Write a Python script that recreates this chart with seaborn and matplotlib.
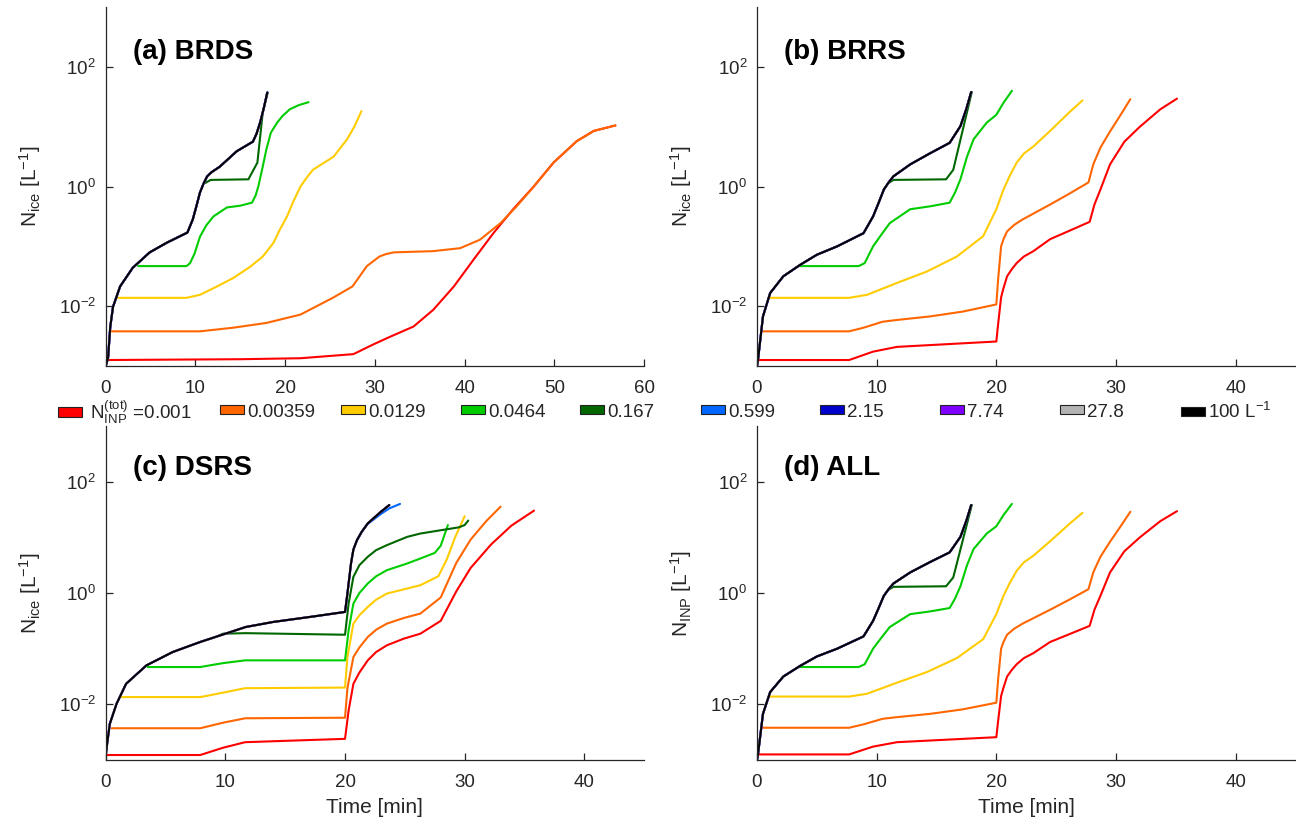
import numpy as np
import pandas as pd
import matplotlib
matplotlib.use("Agg")
import matplotlib.pyplot as plt
import seaborn as sns
from matplotlib.patches import Patch
from matplotlib.ticker import NullLocator

# ---------------- data (time in min, N in L^-1) ----------------
levels = ["0.001", "0.00359", "0.0129", "0.0464", "0.167",
          "0.599", "2.15", "7.74", "27.8", "100"]
colors = ["#FF0000", "#FF6600", "#FFCC00", "#00CC00", "#006600",
          "#0066FF", "#0000CC", "#8000FF", "#B3B3B3", "#000000"]
legend_labels = [r" $\mathregular{N_{INP}^{(tot)}}$ =0.001", "0.00359", "0.0129",
                 "0.0464", "0.167", "0.599", "2.15", "7.74", "27.8",
                 r"100 L$^{-1}$"]
panel_titles = ["(a) BRDS", "(b) BRRS", "(c) DSRS", "(d) ALL"]

# (a) BRDS
a_k_t = [0, 0.26, 0.5, 0.81, 1.6, 3.0, 4.9, 6.8, 9.1, 9.7, 10.1, 10.5, 10.9, 11.3, 11.8,
         12.7, 14.6, 16.4, 16.8, 17.2, 17.6, 18.0]
a_k_n = [0.001, 0.00138, 0.00447, 0.00977, 0.0214, 0.0437, 0.0794, 0.115, 0.170, 0.282,
         0.468, 0.794, 1.12, 1.48, 1.74, 2.14, 3.89, 5.62, 7.59, 11.7, 20.0, 37.2]
a_dg_t = [11.1, 11.7, 15.9, 16.9, 17.5, 18.05]
a_dg_n = [1.15, 1.29, 1.32, 2.51, 17.4, 37.2]
a_g_t = [3.6, 9.0, 9.4, 9.9, 10.5, 11.2, 12.0, 13.5, 15.0, 16.3, 16.7, 17.0, 17.45, 17.9,
         18.4, 19.1, 19.7, 20.5, 21.5, 22.6]
a_g_n = [0.0468, 0.0468, 0.0525, 0.076, 0.145, 0.224, 0.316, 0.447, 0.479, 0.537, 0.708,
         1.0, 2.0, 4.17, 7.94, 11.7, 15.1, 19.5, 22.9, 25.7]
a_y_t = [1.2, 9.0, 10.5, 12.4, 14.2, 16.1, 17.5, 18.7, 19.4, 20.2, 20.9, 21.7, 22.4, 23.1,
         25.4, 26.9, 27.7, 28.5]
a_y_n = [0.0138, 0.0138, 0.0155, 0.0214, 0.0295, 0.0457, 0.0676, 0.115, 0.19, 0.316, 0.56,
         1.0, 1.41, 1.91, 3.16, 6.17, 10.0, 18.2]
a_o_t = [0.67, 10.5, 14.2, 17.9, 21.7, 25.3, 27.5, 28.3, 29.1, 30.5, 31.2, 32.1, 36.5, 39.5,
         41.7, 44.0, 45.8, 47.7, 49.9, 52.5, 54.4, 56.8]
a_o_n = [0.0038, 0.0038, 0.00437, 0.00525, 0.00724, 0.0138, 0.0214, 0.0316, 0.0468, 0.0676,
         0.0741, 0.0794, 0.0832, 0.0933, 0.129, 0.245, 0.468, 1.0, 2.51, 5.75, 8.51, 10.5]
a_r_t = [0, 15.0, 21.7, 27.6, 29.8, 31.7, 34.3, 36.5, 38.8, 41.0, 43.2, 45.4, 47.7, 49.9,
         52.5, 54.4, 56.8]
a_r_n = [0.00126, 0.0013, 0.00135, 0.00158, 0.00229, 0.00309, 0.00457, 0.0087, 0.0214, 0.0603,
         0.166, 0.417, 1.0, 2.51, 5.75, 8.51, 10.5]

# (b) BRRS  (panel (d) ALL shows the same curves)
b_k_t = [0, 0.1, 0.5, 1.1, 2.2, 3.6, 5.0, 6.7, 8.9, 9.7, 10.15, 10.6, 11.0, 11.4, 12.8,
         14.5, 16.1, 17.0, 17.5, 17.9]
b_k_n = [0.001, 0.00135, 0.00676, 0.0166, 0.0316, 0.049, 0.0724, 0.1, 0.166, 0.316, 0.525,
         0.891, 1.17, 1.48, 2.34, 3.63, 5.37, 10.2, 20.0, 38.0]
b_dg_t = [11.0, 11.4, 15.8, 16.4, 17.2, 17.95]
b_dg_n = [1.15, 1.29, 1.32, 1.9, 8.9, 38.0]
b_g_t = [3.5, 8.5, 9.0, 9.7, 10.4, 11.1, 12.8, 14.5, 16.1, 16.55, 17.0, 17.55, 18.1, 19.2,
         20.0, 20.6, 21.3]
b_g_n = [0.0468, 0.0468, 0.0525, 0.1, 0.158, 0.245, 0.417, 0.468, 0.537, 0.794, 1.32, 3.16,
         6.17, 11.7, 15.8, 25.1, 39.8]
b_y_t = [0.95, 7.7, 9.2, 11.7, 14.2, 16.7, 18.9, 20.0, 20.6, 21.1, 21.7, 22.3, 23.1, 24.5,
         26.1, 27.2]
b_y_n = [0.0138, 0.0138, 0.0155, 0.0245, 0.038, 0.0676, 0.148, 0.417, 0.891, 1.48, 2.51,
         3.55, 4.68, 8.51, 17.4, 27.5]
b_o_t = [0.5, 7.7, 8.9, 10.5, 11.7, 14.5, 17.2, 20.0, 20.15, 20.4, 20.6, 20.9, 21.5, 22.2,
         24.5, 26.1, 27.7, 28.1, 28.7, 29.5, 30.3, 31.2]
b_o_n = [0.0038, 0.0038, 0.00437, 0.0055, 0.00589, 0.00676, 0.00813, 0.0107, 0.0282, 0.1,
         0.132, 0.178, 0.229, 0.282, 0.501, 0.759, 1.17, 2.34, 4.47, 8.32, 14.8, 28.8]
b_r_t = [0, 7.7, 9.7, 11.7, 20.0, 20.15, 20.4, 20.6, 20.9, 21.3, 21.7, 22.3, 23.1, 24.5,
         26.1, 27.8, 28.2, 28.7, 29.5, 30.7, 32.0, 33.7, 35.1]
b_r_n = [0.00126, 0.00126, 0.00174, 0.00209, 0.00257, 0.00501, 0.0141, 0.02, 0.0316, 0.0417,
         0.0525, 0.0676, 0.0832, 0.132, 0.182, 0.257, 0.501, 0.891, 2.34, 5.62, 10.0, 19.5,
         29.5]

# (c) DSRS
c_k_t = [0, 0.12, 0.34, 0.9, 1.7, 3.4, 5.6, 7.9, 9.6, 11.7, 14.0, 17.4, 20.0, 20.2, 20.5,
         20.7, 21.0, 21.4, 21.9, 23.0, 23.7]
c_k_n = [0.0012, 0.002, 0.00447, 0.0102, 0.0234, 0.0501, 0.0871, 0.132, 0.174, 0.245, 0.302,
         0.38, 0.457, 0.977, 3.39, 6.03, 8.91, 12.6, 17.8, 28.8, 38.0]
c_b_t = [21.0, 21.4, 21.9, 23.0, 23.7, 24.6]
c_b_n = [8.91, 12.6, 17.4, 26.3, 33.1, 39.8]
c_dg_t = [9.4, 9.8, 11.7, 20.0, 20.3, 20.7, 21.2, 21.9, 22.6, 23.5, 25.2, 26.3, 27.8, 29.5,
          30.0, 30.3]
c_dg_n = [0.170, 0.186, 0.19, 0.178, 0.646, 1.95, 3.16, 4.47, 5.89, 7.24, 10.2, 11.7, 13.2,
          15.1, 16.6, 20.0]
c_g_t = [3.5, 7.9, 9.8, 11.65, 20.0, 20.3, 20.7, 21.2, 21.9, 22.6, 23.5, 25.2, 26.3, 27.5,
         28.0, 28.6]
c_g_n = [0.0468, 0.0468, 0.055, 0.0617, 0.0617, 0.214, 0.646, 1.0, 1.48, 2.0, 2.57, 3.39,
         4.17, 5.25, 7.08, 16.6]
c_y_t = [1.2, 7.9, 9.8, 11.65, 20.0, 20.2, 20.7, 21.2, 21.9, 22.6, 23.5, 26.3, 27.8, 28.5,
         29.2, 30.0]
c_y_n = [0.0135, 0.0135, 0.0162, 0.0195, 0.02, 0.0708, 0.282, 0.398, 0.562, 0.759, 0.977,
         1.38, 2.0, 3.98, 10.0, 24.0]
c_o_t = [0.5, 7.9, 9.8, 11.65, 20.0, 20.2, 20.7, 21.2, 21.9, 22.6, 23.5, 24.9, 26.3, 28.0,
         29.3, 30.5, 31.8, 33.0]
c_o_n = [0.00372, 0.00372, 0.00468, 0.00562, 0.00575, 0.0195, 0.0708, 0.105, 0.162, 0.219,
         0.282, 0.355, 0.427, 0.832, 3.47, 9.12, 19.5, 35.5]
c_r_t = [0, 7.9, 9.8, 11.65, 20.0, 20.3, 20.7, 21.2, 21.9, 22.6, 23.5, 24.9, 26.3, 28.0,
         29.3, 30.5, 32.2, 33.9, 35.8]
c_r_n = [0.00123, 0.00123, 0.00166, 0.00209, 0.0024, 0.00776, 0.0234, 0.0372, 0.0617, 0.0871,
         0.115, 0.151, 0.186, 0.316, 1.07, 2.82, 7.41, 16.2, 30.2]

x_limits = [60, 45, 45, 45]
x_ticks = [[0, 10, 20, 30, 40, 50, 60], [0, 10, 20, 30, 40], [0, 10, 20, 30, 40], [0, 10, 20, 30, 40]]


def panel_frame(r, o, y, g, dg, b, k):
    series = [r, o, y, g, dg, b, k, k, k, k]  # 2.15/7.74/27.8/100 coincide with the envelope
    rows = []
    for lev, (t, n) in zip(levels, series):
        rows.append(pd.DataFrame({"t": t, "N": n, "INP": lev}))
    return pd.concat(rows, ignore_index=True)


frames = [
    panel_frame((a_r_t, a_r_n), (a_o_t, a_o_n), (a_y_t, a_y_n), (a_g_t, a_g_n),
                (a_dg_t, a_dg_n), (a_k_t, a_k_n), (a_k_t, a_k_n)),
    panel_frame((b_r_t, b_r_n), (b_o_t, b_o_n), (b_y_t, b_y_n), (b_g_t, b_g_n),
                (b_dg_t, b_dg_n), (b_k_t, b_k_n), (b_k_t, b_k_n)),
    panel_frame((c_r_t, c_r_n), (c_o_t, c_o_n), (c_y_t, c_y_n), (c_g_t, c_g_n),
                (c_dg_t, c_dg_n), (c_b_t, c_b_n), (c_k_t, c_k_n)),
    panel_frame((b_r_t, b_r_n), (b_o_t, b_o_n), (b_y_t, b_y_n), (b_g_t, b_g_n),
                (b_dg_t, b_dg_n), (b_k_t, b_k_n), (b_k_t, b_k_n)),
]
ylabels = [r"N$_\mathregular{ice}$ [L$^{-1}$]"] * 3 + [r"N$_\mathregular{INP}$ [L$^{-1}$]"]

# ---------------- style ----------------
sns.set_style("ticks")
plt.rcParams.update({
    "font.family": ["Liberation Sans", "DejaVu Sans"],
    "mathtext.fontset": "custom",
    "mathtext.rm": "Liberation Sans",
    "mathtext.it": "Liberation Sans:italic",
    "mathtext.bf": "Liberation Sans:bold",
    "mathtext.default": "regular",
    "axes.unicode_minus": False,
    "axes.edgecolor": "#262626",
    "axes.linewidth": 0.9,
    "xtick.color": "#262626",
    "ytick.color": "#262626",
    "text.color": "#262626",
    "axes.labelcolor": "#262626",
})
palette = dict(zip(levels, colors))

fig = plt.figure(figsize=(12.96, 8.27), dpi=100)
positions = [
    [0.0816, 0.5574, 0.4154, 0.4341],
    [0.5841, 0.5574, 0.4155, 0.4341],
    [0.0816, 0.0810, 0.4154, 0.4039],
    [0.5841, 0.0810, 0.4155, 0.4039],
]

for i, pos in enumerate(positions):
    ax = fig.add_axes(pos)
    sns.lineplot(data=frames[i], x="t", y="N", hue="INP", hue_order=levels,
                 palette=palette, estimator=None, legend=False, lw=1.5, ax=ax)
    ax.set_yscale("log")
    ax.set_ylim(1e-3, 1e3)
    ax.set_xlim(0, x_limits[i])
    ax.set_xticks(x_ticks[i])
    ax.set_yticks([1e-2, 1e0, 1e2])
    ax.yaxis.set_minor_locator(NullLocator())
    ax.tick_params(direction="in", length=5, width=0.9, labelsize=13.5)
    ax.tick_params(axis="x", pad=10)
    ax.tick_params(axis="y", pad=7)
    for s in ["top", "right"]:
        ax.spines[s].set_visible(False)
    ax.set_ylabel(ylabels[i], fontsize=15)
    ax.yaxis.set_label_coords(-0.117, 0.5)
    if i >= 2:
        ax.set_xlabel("Time [min]", fontsize=15, labelpad=5)
    else:
        ax.set_xlabel("")
    ax.text(0.05, 0.875, panel_titles[i], transform=ax.transAxes, fontsize=20,
            fontweight="bold", color="black", ha="left", va="center")

# legend row (one entry per INP level, fixed column positions like the original)
legend_x = [58, 220, 341, 461, 580, 701, 820, 940, 1060, 1181]
for x, lab, c in zip(legend_x, legend_labels, colors):
    h = Patch(facecolor=c, edgecolor="#222222", linewidth=0.8)
    fig.legend(handles=[h], labels=[lab], loc="center left",
               bbox_to_anchor=(x / 1296, 1 - 412 / 827), frameon=False,
               fontsize=13.5, handlelength=1.28, handleheight=0.37,
               handletextpad=0.15, borderpad=0, borderaxespad=0)

fig.savefig("out.png", dpi=100)
